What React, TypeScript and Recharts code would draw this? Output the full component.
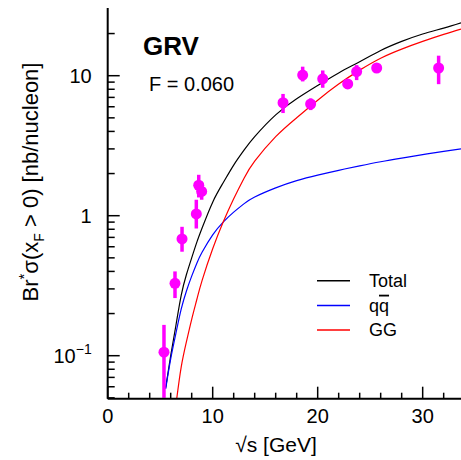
import React from 'react';
import { ComposedChart, Line, Scatter, ErrorBar, XAxis, YAxis } from 'recharts';

// sqrt(s) grid and curves
const totalX = [5.52, 6, 6.5, 7, 7.5, 8, 8.5, 9, 10, 11, 12, 13, 14, 16, 18, 20, 22, 24, 26, 28, 30, 32, 33.65];
const totalY = [0.059, 0.1, 0.165, 0.27, 0.38, 0.5, 0.65, 0.82, 1.25, 1.72, 2.3, 2.95, 3.67, 5.25, 6.84, 8.51, 10.47, 12.59, 15.14, 17.58, 19.86, 21.88, 23.88];

const qqX = [5.52, 6, 6.5, 7, 7.5, 8, 8.5, 9, 10, 11, 12, 13, 14, 16, 18, 20, 22, 24, 26, 28, 30, 32, 33.65];
const qqY = [0.058, 0.095, 0.145, 0.215, 0.29, 0.37, 0.46, 0.55, 0.73, 0.9, 1.06, 1.22, 1.36, 1.58, 1.78, 1.95, 2.11, 2.27, 2.43, 2.58, 2.73, 2.88, 3.0];

const ggX = [6.57, 7, 7.5, 8, 8.5, 9, 10, 11, 12, 13, 14, 16, 18, 20, 22, 24, 26, 28, 30, 32, 33.65];
const ggY = [0.049, 0.083, 0.126, 0.182, 0.254, 0.347, 0.58, 0.9, 1.32, 1.86, 2.45, 3.67, 5.01, 6.68, 8.71, 10.96, 13.34, 15.49, 17.58, 19.72, 21.53];

// measurements
const ptX = [5.36, 6.41, 7.08, 8.44, 8.67, 8.95, 16.7, 18.57, 19.33, 20.48, 22.86, 23.71, 25.62, 31.52];
const ptY = [0.106, 0.329, 0.683, 1.03, 1.65, 1.49, 6.41, 10.1, 6.28, 9.5, 8.73, 10.7, 11.35, 11.35];
const ptErrLo = [0.056, 0.071, 0.13, 0.22, 0.3, 0.19, 1.0, 1.0, 0.6, 1.3, 0.5, 1.4, 0.4, 2.65];
const ptErrHi = [0.06, 0.071, 0.15, 0.27, 0.31, 0.23, 1.0, 1.5, 0.6, 1.4, 0.5, 1.2, 0.4, 2.55];

const xTicks = [0, 2, 4, 6, 8, 10, 12, 14, 16, 18, 20, 22, 24, 26, 28, 30, 32];
const xMajor = [0, 10, 20, 30];
const yTicks = [0.05, 0.06, 0.07, 0.08, 0.09, 0.1, 0.2, 0.3, 0.4, 0.5, 0.6, 0.7, 0.8, 0.9, 1, 2, 3, 4, 5, 6, 7, 8, 9, 10, 20];
const yMajor = [0.1, 1, 10];
const yLabels = [
  { base: '10', exp: '\u22121' },
  { base: '1', exp: '' },
  { base: '10', exp: '' },
];

const seriesNames = ['Total', 'qq', 'GG'];
const seriesColors = ['#000000', '#0000ff', '#ff0000'];

const totalData = totalX.map((x, i) => ({ x, y: totalY[i] }));
const qqData = qqX.map((x, i) => ({ x, y: qqY[i] }));
const ggData = ggX.map((x, i) => ({ x, y: ggY[i] }));
const ptData = ptX.map((x, i) => ({ x, y: ptY[i], err: [ptErrLo[i], ptErrHi[i]] }));

const FONT = '"Liberation Sans", Arial, Helvetica, sans-serif';

function XTick(props: any) {
  const { x, y, payload } = props;
  const major = xMajor.includes(payload.value);
  return (
    <g>
      <line x1={x} x2={x} y1={y} y2={y - (major ? 12 : 6)} stroke="#000" strokeWidth={1.5} />
      {major && (
        <text x={x} y={y + 24} textAnchor="middle" fontFamily={FONT} fontSize={20} fill="#000">
          {payload.value}
        </text>
      )}
    </g>
  );
}

function TopTick(props: any) {
  const { x, y, payload } = props;
  const major = xMajor.includes(payload.value);
  return <line x1={x} x2={x} y1={y} y2={y + (major ? 12 : 6)} stroke="#000" strokeWidth={1.5} />;
}

function YTick(props: any) {
  const { x, y, payload } = props;
  const v = payload.value;
  const idx = yMajor.findIndex((m) => Math.abs(m - v) / m < 1e-6);
  const major = idx >= 0;
  const lab = major ? yLabels[idx] : null;
  return (
    <g>
      <line x1={x} x2={x + (major ? 12 : 7)} y1={y} y2={y} stroke="#000" strokeWidth={1.5} />
      {lab && (
        <text x={x - 16} y={y + 7} textAnchor="end" fontFamily={FONT} fontSize={20} fill="#000">
          {lab.base}
          {lab.exp && (
            <tspan fontSize={14} dy={-9}>
              {lab.exp}
            </tspan>
          )}
        </text>
      )}
    </g>
  );
}

const Dot = (props: any) => {
  const { cx, cy } = props;
  return <circle cx={cx} cy={cy} r={5.5} fill="#ff00ff" />;
};

export default function App() {
  return (
    <div style={{ position: 'absolute', left: 0, top: 0, width: 461, height: 460, background: '#fff' }}>
      <ComposedChart width={461} height={460} margin={{ top: 8, right: 0, bottom: 0, left: 0 }}>
        <XAxis
          dataKey="x"
          type="number"
          domain={[0, 33.65]}
          allowDataOverflow
          ticks={xTicks}
          interval={0}
          tickSize={0}
          tickMargin={0}
          height={61.3}
          axisLine={{ stroke: '#000', strokeWidth: 2 }}
          tick={(p: any) => <XTick {...p} />}
        />
        <XAxis
          xAxisId="top"
          orientation="top"
          dataKey="x"
          type="number"
          domain={[0, 33.65]}
          allowDataOverflow
          ticks={xTicks}
          interval={0}
          tickSize={0}
          tickMargin={0}
          height={0}
          axisLine={{ stroke: '#000', strokeWidth: 2 }}
          tick={(p: any) => <TopTick {...p} />}
        />
        <YAxis
          type="number"
          scale="log"
          domain={[0.0493, 30.45]}
          allowDataOverflow
          ticks={yTicks}
          interval={0}
          tickSize={0}
          tickMargin={0}
          width={107.7}
          axisLine={{ stroke: '#000', strokeWidth: 2 }}
          tick={(p: any) => <YTick {...p} />}
        />
        <Line data={totalData} dataKey="y" type="natural" stroke={seriesColors[0]} strokeWidth={1.2} dot={false} isAnimationActive={false} />
        <Line data={qqData} dataKey="y" type="natural" stroke={seriesColors[1]} strokeWidth={1.2} dot={false} isAnimationActive={false} />
        <Line data={ggData} dataKey="y" type="natural" stroke={seriesColors[2]} strokeWidth={1.2} dot={false} isAnimationActive={false} />
        <Scatter data={ptData} dataKey="y" fill="#ff00ff" shape={Dot} isAnimationActive={false}>
          <ErrorBar dataKey="err" direction="y" width={0} stroke="#ff00ff" strokeWidth={3.5} />
        </Scatter>
      </ComposedChart>

      <svg width={461} height={460} style={{ position: 'absolute', left: 0, top: 0, pointerEvents: 'none' }}>
        <text x={143} y={55} fontFamily={FONT} fontSize={26} fontWeight="bold" fill="#000">GRV</text>
        <text x={149} y={90.5} fontFamily={FONT} fontSize={20} fill="#000">F = 0.060</text>
        <text x={276} y={452} textAnchor="middle" fontFamily={FONT} fontSize={21} fill="#000">
          {'\u221As [GeV]'}
        </text>
        <text
          x={0}
          y={0}
          transform="translate(37.5,182) rotate(-90)"
          textAnchor="middle"
          fontFamily={FONT}
          fontSize={22}
          fill="#000"
        >
          Br
          <tspan fontSize={15} dy={-9}>*</tspan>
          <tspan dy={9}>{'\u03C3(x'}</tspan>
          <tspan fontSize={14} dy={6}>F</tspan>
          <tspan dy={-6}>{' > 0) [nb/nucleon]'}</tspan>
        </text>
        {seriesNames.map((name, i) => (
          <g key={name}>
            <line x1={317} x2={350} y1={280.7 + i * 24.7} y2={280.7 + i * 24.7} stroke={seriesColors[i]} strokeWidth={1.5} />
            <text x={369} y={287 + i * 24.7} fontFamily={FONT} fontSize={18} fill="#000">
              {name === 'qq' ? (
                <>
                  q<tspan style={{ textDecoration: 'overline' }}>q</tspan>
                </>
              ) : (
                name
              )}
            </text>
          </g>
        ))}
      </svg>
    </div>
  );
}
